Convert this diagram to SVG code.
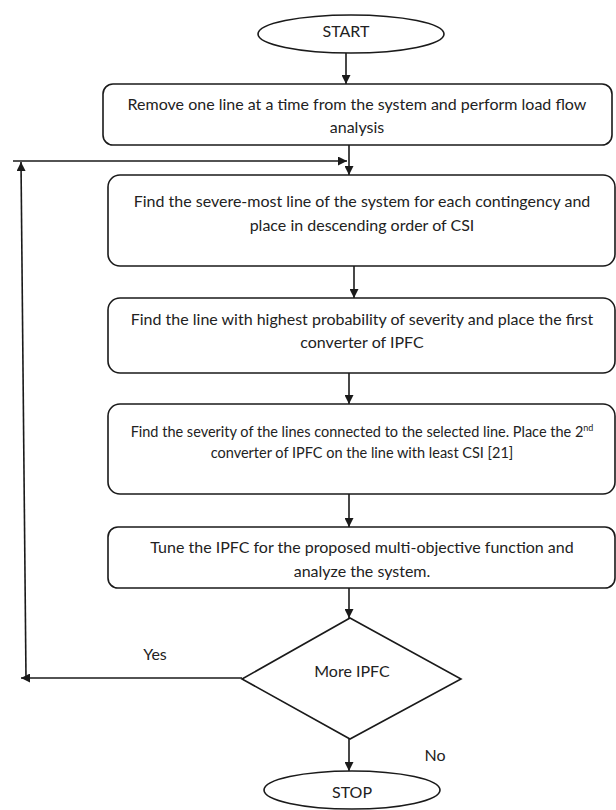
<svg xmlns="http://www.w3.org/2000/svg" width="616" height="810" viewBox="0 0 616 810">
<defs>
<marker id="ah" viewBox="0 0 10 10" refX="10" refY="5" markerWidth="10" markerHeight="9" markerUnits="userSpaceOnUse" orient="auto">
<path d="M0,0 L10,5 L0,10 z" fill="#1a1a1a"/>
</marker>
<style>
.s{fill:#fff;stroke:#1a1a1a;stroke-width:1.6}
.t{font-family:Lato,"Liberation Sans",sans-serif;font-size:16px;fill:#222;text-anchor:middle}
.t2{font-family:Lato,"Liberation Sans",sans-serif;font-size:14.5px;fill:#222;text-anchor:middle}
.c{fill:none;stroke:#1a1a1a;stroke-width:1.6}
.ca{fill:none;stroke:#1a1a1a;stroke-width:1.6;marker-end:url(#ah)}
</style>
</defs>
<rect width="616" height="810" fill="#fff"/>
<g id="connectors">
<line class="ca" x1="346" y1="53" x2="346" y2="84"/>
<line class="ca" x1="349" y1="145" x2="349" y2="175"/>
<line class="ca" x1="13" y1="161" x2="347" y2="161"/>
<line class="ca" x1="354" y1="266" x2="354" y2="298"/>
<line class="ca" x1="349" y1="373" x2="349" y2="404"/>
<line class="ca" x1="349" y1="494" x2="349" y2="527"/>
<line class="ca" x1="349" y1="588" x2="349" y2="618"/>
<line class="ca" x1="349" y1="739" x2="349" y2="771"/>
<line class="ca" x1="242" y1="678" x2="21" y2="678"/>
<line class="ca" x1="26" y1="678" x2="21" y2="162"/>
<text class="t" x="155" y="660">Yes</text>
<text class="t" x="435" y="761">No</text>
</g>
<g id="start">
<ellipse class="s" cx="351" cy="34" rx="93" ry="19"/>
<text class="t" x="346" y="37">START</text>
</g>
<g id="remove">
<rect class="s" x="103" y="84" width="509" height="61" rx="10"/>
<text class="t" x="357" y="110">Remove one line at a time from the system and perform load flow</text>
<text class="t" x="357" y="133">analysis</text>
</g>
<g id="severe">
<rect class="s" x="108" y="175" width="507" height="91" rx="12"/>
<text class="t" x="362" y="207">Find the severe-most line of the system for each contingency and</text>
<text class="t" x="362" y="231">place in descending order of CSI</text>
</g>
<g id="highest">
<rect class="s" x="108" y="298" width="507" height="75" rx="12"/>
<text class="t" x="362" y="325">Find the line with highest probability of severity and place the first</text>
<text class="t" x="362" y="348">converter of IPFC</text>
</g>
<g id="second">
<rect class="s" x="108" y="404" width="507" height="90" rx="12"/>
<text class="t2" x="362" y="437">Find the severity of the lines connected to the selected line. Place the 2<tspan font-size="9" dy="-6">nd</tspan></text>
<text class="t2" x="362" y="458">converter of IPFC on the line with least CSI [21]</text>
</g>
<g id="tune">
<rect class="s" x="108" y="527" width="507" height="61" rx="10"/>
<text class="t" x="362" y="553">Tune the IPFC for the proposed multi-objective function and</text>
<text class="t" x="362" y="577">analyze the system.</text>
</g>
<g id="decision">
<polygon class="s" points="350,618 461,679 350,739 242,679"/>
<text class="t" x="352" y="677">More IPFC</text>
</g>
<g id="stop">
<ellipse class="s" cx="352" cy="790" rx="88" ry="19"/>
<text class="t" x="352" y="798">STOP</text>
</g>
</svg>
